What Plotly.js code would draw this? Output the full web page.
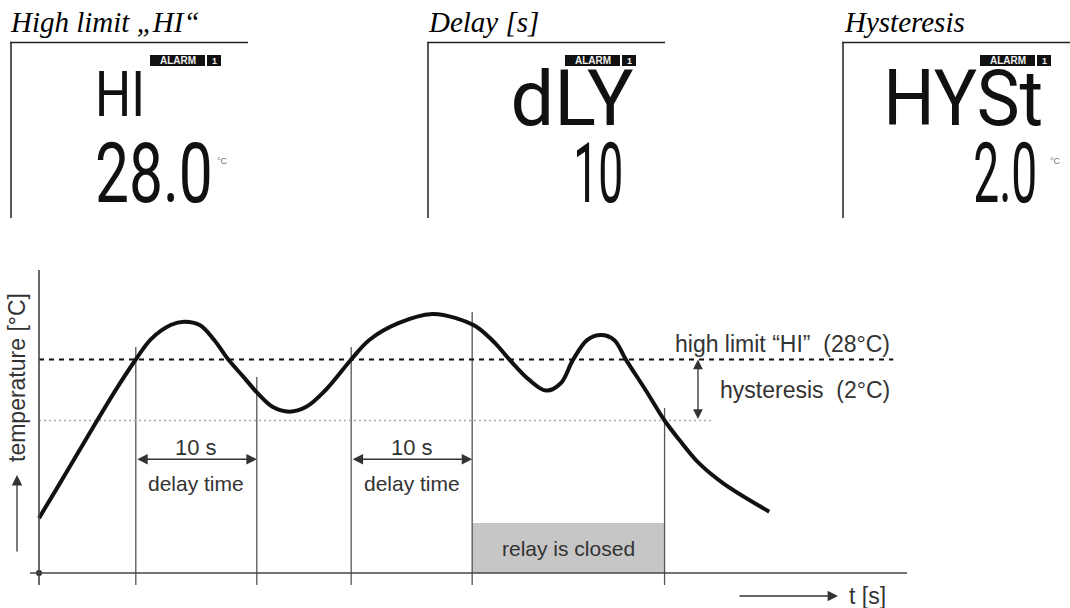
<!DOCTYPE html>
<html>
<head>
<meta charset="utf-8">
<script src="https://cdn.plot.ly/plotly-3.0.1.min.js"></script>
<style>html,body{margin:0;padding:0;background:#fff;}#chart{width:1070px;height:608px;}</style>
</head>
<body>
<div id="chart"></div>
<script>
// ---- data (time in s, temperature in °C) ----
const timeS = [0, 1.65, 3.31, 4.88, 6.45, 8.0, 9.26, 10.88, 11.99, 13.28, 14.48, 15.68, 16.88, 18.08, 19.29, 20.69, 22.09, 23.69, 25.8, 27.3, 29.7, 32.5, 34.51, 36.12, 37.71, 38.92, 40.52, 41.92, 43.12, 44.12, 45.32, 46.45, 47.53, 48.53, 50.13, 51.7, 52.93, 54.54, 56.55, 60.35];
const tempC = [22.8, 23.89, 25.0, 26.05, 27.07, 28.0, 28.67, 29.13, 29.24, 29.13, 28.64, 27.98, 27.44, 26.89, 26.45, 26.29, 26.45, 27.0, 28.0, 28.64, 29.19, 29.49, 29.35, 29.08, 28.53, 27.98, 27.33, 26.98, 27.22, 27.98, 28.64, 28.8, 28.64, 27.98, 27.0, 26.0, 25.36, 24.6, 23.94, 23.01];
const highLimit = 28;          // °C
const hysteresis = 2;          // °C
const delaySeconds = 10;       // s
const eventTimes = [8, 18, 25.8, 35.8, 51.7];          // crossing / switching instants
const eventTops = [28.41, 27.43, 28.41, 29.56, 26.41];  // top end of each marker line
const delayStarts = [8, 25.8];
const relayClosed = [35.8, 51.7];
const lcdTitles = ['High limit \u201EHI\u201C', 'Delay [s]', 'Hysteresis'];
const lcdTop = ['HI', 'dLY', 'HYSt'];
const lcdBottom = ['28.0', '10', '2.0'];
const lcdUnit = ['\u00B0C', '', '\u00B0C'];

// ---- layout constants ----
const W = 1070, H = 608;
const X0 = -0.744, X1 = 71.736, Y0 = 20.607, Y1 = 30.934, BASE = 21;
const TXT = '#333';
const SANS = 'Liberation Sans, Arial, sans-serif';
const LCDF = 'Roboto, Liberation Sans, sans-serif';

const traces = [];
const vx = [], vy = [];
eventTimes.forEach((t, i) => { vx.push(t, t, null); vy.push(eventTops[i], Y0, null); });
traces.push({x: vx, y: vy, mode: 'lines', line: {color: '#555', width: 1.3}, hoverinfo: 'skip'});
traces.push({x: [0, 55.7], y: [highLimit - hysteresis, highLimit - hysteresis], mode: 'lines',
  line: {color: '#aaa', width: 1.5, dash: '2px,3px'}, hoverinfo: 'skip'});
traces.push({x: [0, 70.6], y: [highLimit, highLimit], mode: 'lines',
  line: {color: '#111', width: 2.2, dash: '5px,5px'}, hoverinfo: 'skip'});
traces.push({x: timeS, y: tempC, mode: 'lines', line: {color: '#111', width: 4, shape: 'spline', smoothing: 1}, hoverinfo: 'skip'});
traces.push({x: [0], y: [BASE], mode: 'markers', marker: {color: '#222', size: 6}, hoverinfo: 'skip'});

const shapes = [
  {type: 'rect', xref: 'x', yref: 'y', x0: relayClosed[0], x1: relayClosed[1], y0: BASE, y1: 22.64,
   fillcolor: '#c6c6c6', line: {width: 0}, layer: 'below'},
  {type: 'line', xref: 'x', yref: 'y', x0: X0, x1: X1, y0: BASE, y1: BASE, line: {color: '#444', width: 1.6}},
  {type: 'line', xref: 'x', yref: 'y', x0: 0, x1: 0, y0: Y0, y1: Y1, line: {color: '#444', width: 1.6}}
];

const ann = [];
delayStarts.forEach(s => {
  const mid = s + delaySeconds / 2;
  ann.push({x: s + delaySeconds, y: 24.73, ax: s, ay: 24.73, xref: 'x', yref: 'y', axref: 'x', ayref: 'y',
    text: '', showarrow: true, arrowside: 'end+start', arrowhead: 2, arrowsize: 1.6, arrowwidth: 1.3, arrowcolor: '#333', standoff: 0, startstandoff: 0});
  ann.push({x: mid, y: 25.13, xref: 'x', yref: 'y', text: delaySeconds + ' s', showarrow: false, font: {family: SANS, size: 22, color: TXT}});
  ann.push({x: mid, y: 23.95, xref: 'x', yref: 'y', text: 'delay time', showarrow: false, font: {family: SANS, size: 21, color: TXT}});
});
ann.push({x: (relayClosed[0] + relayClosed[1]) / 2, y: 21.82, xref: 'x', yref: 'y', text: 'relay is closed', showarrow: false,
  font: {family: SANS, size: 21, color: TXT}});
ann.push({x: 70.5, y: 28.5, xref: 'x', yref: 'y', xanchor: 'right', text: 'high limit \u201CHI\u201D\u00A0\u00A0(' + highLimit + '\u00B0C)',
  showarrow: false, font: {family: SANS, size: 23, color: TXT}});
ann.push({x: 70.5, y: 27.0, xref: 'x', yref: 'y', xanchor: 'right', text: 'hysteresis\u00A0\u00A0(' + hysteresis + '\u00B0C)',
  showarrow: false, font: {family: SANS, size: 23, color: TXT}});
ann.push({x: 54.46, y: highLimit, ax: 54.46, ay: highLimit - hysteresis, xref: 'x', yref: 'y', axref: 'x', ayref: 'y',
  text: '', showarrow: true, arrowside: 'end+start', arrowhead: 2, arrowsize: 1.5, arrowwidth: 1.3, arrowcolor: '#333', standoff: 0, startstandoff: 0});
// axis captions (placed on the page overlay axes)
ann.push({x: 847, y: 596, xref: 'x2', yref: 'y2', xanchor: 'left', text: 't [s]', showarrow: false, font: {family: SANS, size: 23, color: TXT}});
ann.push({x: 838, y: 596, ax: 738, ay: 596, xref: 'x2', yref: 'y2', axref: 'x2', ayref: 'y2', text: '', showarrow: true,
  arrowhead: 2, arrowsize: 1.6, arrowwidth: 1.3, arrowcolor: '#333', standoff: 0});
ann.push({x: 17, y: 378, xref: 'x2', yref: 'y2', text: 'temperature [\u00B0C]', textangle: -90, showarrow: false,
  font: {family: SANS, size: 23, color: TXT}});
ann.push({x: 17, y: 475, ax: 17, ay: 553, xref: 'x2', yref: 'y2', axref: 'x2', ayref: 'y2', text: '', showarrow: true,
  arrowhead: 2, arrowsize: 1.6, arrowwidth: 1.3, arrowcolor: '#333', standoff: 0});

// ---- LCD panels (pixel overlay axes x2/y2) ----
const panels = [
  {left: 11, right: 248, titleX: 8, badge: 150, top: {c: 120, y: 94, s: 63, w: 50}, bot: {c: 154, w: 118}, unitX: 222},
  {left: 428, right: 665, titleX: 426, badge: 565, top: {c: 571.5, y: 99, s: 77, w: 123}, bot: {c: 598, w: 50}, unitX: 0},
  {left: 843, right: 1070, titleX: 842, badge: 980, top: {c: 963, y: 99, s: 77, w: 160}, bot: {c: 1005, w: 64}, unitX: 1055}
];
const lcdFit = [];
panels.forEach((p, i) => {
  shapes.push({type: 'line', xref: 'x2', yref: 'y2', x0: p.left - 1, x1: p.right, y0: 42.5, y1: 42.5, line: {color: '#222', width: 1.5}});
  shapes.push({type: 'line', xref: 'x2', yref: 'y2', x0: p.left, x1: p.left, y0: 42.5, y1: 218, line: {color: '#222', width: 1.5}});
  shapes.push({type: 'rect', xref: 'x2', yref: 'y2', x0: p.badge, x1: p.badge + 55, y0: 55, y1: 66, fillcolor: '#111', line: {width: 0}});
  shapes.push({type: 'rect', xref: 'x2', yref: 'y2', x0: p.badge + 57, x1: p.badge + 71, y0: 55, y1: 66, fillcolor: '#111', line: {width: 0}});
  ann.push({x: p.titleX, y: 22, xref: 'x2', yref: 'y2', xanchor: 'left', text: lcdTitles[i], showarrow: false,
    font: {family: 'Liberation Serif, Times New Roman, serif', size: 29, style: 'italic', color: '#000'}});
  ann.push({x: p.badge + 27.5, y: 60.5, xref: 'x2', yref: 'y2', text: 'ALARM', showarrow: false,
    font: {family: SANS, size: 10, weight: 'bold', color: '#eee'}});
  ann.push({x: p.badge + 64, y: 60.5, xref: 'x2', yref: 'y2', text: '1', showarrow: false,
    font: {family: SANS, size: 9, weight: 'bold', color: '#eee'}});
  lcdFit.push({idx: ann.length, w: p.top.w});
  ann.push({x: p.top.c, y: p.top.y, xref: 'x2', yref: 'y2', text: lcdTop[i], showarrow: false,
    height: Math.round(p.top.s * 0.8),
    font: {family: LCDF, size: p.top.s, color: '#111'}});
  lcdFit.push({idx: ann.length, w: p.bot.w});
  ann.push({x: p.bot.c, y: 173, xref: 'x2', yref: 'y2', text: lcdBottom[i], showarrow: false,
    height: 68,
    font: {family: LCDF, size: 84, color: '#111'}});
  if (lcdUnit[i]) ann.push({x: p.unitX, y: 161, xref: 'x2', yref: 'y2', text: lcdUnit[i], showarrow: false,
    font: {family: SANS, size: 9, color: '#777'}});
});

const layout = {
  width: W, height: H, margin: {l: 0, r: 0, t: 0, b: 0, pad: 0},
  paper_bgcolor: '#fff', plot_bgcolor: 'rgba(0,0,0,0)', showlegend: false,
  xaxis: {domain: [30 / W, 907 / W], range: [X0, X1], visible: false, fixedrange: true},
  yaxis: {domain: [(H - 585) / H, (H - 270) / H], range: [Y0, Y1], visible: false, fixedrange: true},
  xaxis2: {domain: [0, 1], range: [0, W], visible: false, fixedrange: true, anchor: 'y2'},
  yaxis2: {domain: [0, 1], range: [H, 0], visible: false, fixedrange: true, anchor: 'x2'},
  shapes: shapes, annotations: ann
};
Plotly.newPlot('chart', traces, layout, {staticPlot: true, displayModeBar: false}).then(gd => {
  // squeeze LCD characters horizontally to the narrow segment-display proportions
  lcdFit.forEach(f => {
    const g = gd.querySelector('g.annotation[data-index="' + f.idx + '"]');
    if (!g) return;
    const t = g.querySelector('text.annotation-text');
    if (!t) return;
    const bw = t.getBBox().width;
    if (!bw) return;
    t.style.transformBox = 'fill-box';
    t.style.transformOrigin = 'center';
    t.style.transform = 'scaleX(' + (f.w / bw).toFixed(3) + ')';
  });
});
</script>
</body>
</html>
